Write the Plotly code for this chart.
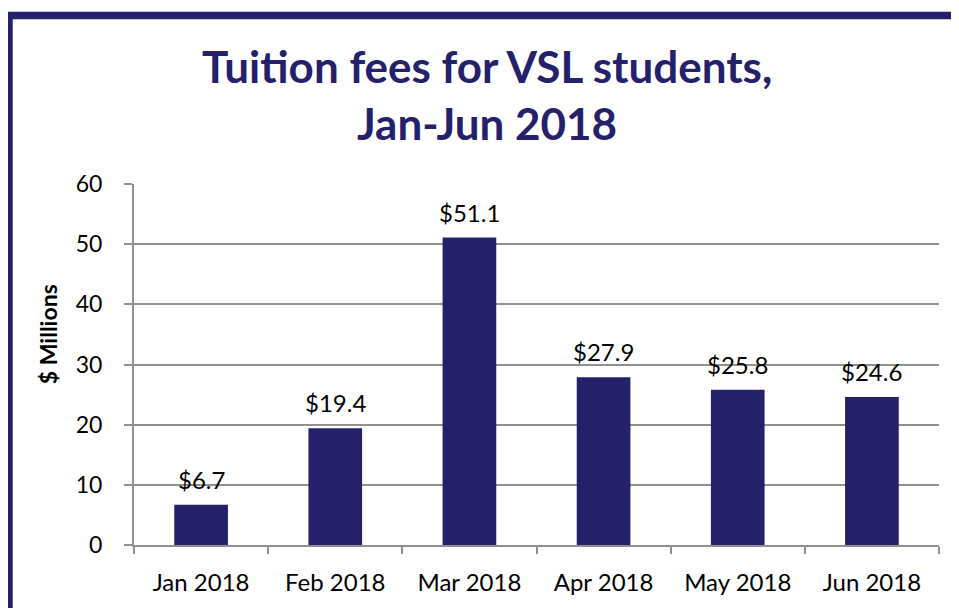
import plotly.graph_objects as go

months = ["Jan 2018", "Feb 2018", "Mar 2018", "Apr 2018", "May 2018", "Jun 2018"]
fees = [6.7, 19.4, 51.1, 27.9, 25.8, 24.6]
labels = ["$6.7", "$19.4", "$51.1", "$27.9", "$25.8", "$24.6"]
title_lines = ["Tuition fees for VSL students,", "Jan-Jun 2018"]
y_title = "$ Millions"

NAVY = "#25206a"
GRID = "#8f8f8f"
FONT = "Lato"

OFF = 8  # page body margin
W, H = 959 - OFF, 608 - OFF
# plot area in screen pixels
SX0, SX1, SY0, SY1 = 134, 939, 184, 547
L, T = SX0 - OFF, SY0 - OFF
R, B = W - (SX1 - OFF), H - (SY1 - OFF)
pw, ph = SX1 - SX0, SY1 - SY0

def px_x(px):
    return (px - SX0) / pw

def px_y(py):
    return (SY1 - py) / ph

fig = go.Figure(go.Bar(
    x=months, y=fees,
    marker=dict(color=NAVY, line=dict(width=0)),
    width=0.4,
))

for m, v, t in zip(months, fees, labels):
    fig.add_annotation(x=m, y=v, text=t, xref="x", yref="y",
                       yanchor="bottom", yshift=9, showarrow=False,
                       font=dict(family=FONT, size=24, color="black"))

fig.update_layout(
    width=W, height=H,
    margin=dict(l=L, r=R, t=T, b=B),
    paper_bgcolor="white", plot_bgcolor="white",
    showlegend=False,
    font=dict(family=FONT, color="black"),
    xaxis=dict(
        showline=True, linecolor=GRID, linewidth=2,
        ticks="outside", tickson="boundaries", ticklen=7, tickcolor=GRID, tickwidth=2,
        tickfont=dict(family=FONT, size=24, color="black"),
        ticklabelstandoff=15,
        showgrid=False,
    ),
    yaxis=dict(
        range=[0, 60], dtick=10,
        showline=True, linecolor=GRID, linewidth=2,
        ticks="outside", ticklen=8, tickcolor=GRID, tickwidth=2,
        tickfont=dict(family=FONT, size=23, color="black"),
        ticklabelstandoff=17,
        showgrid=True, gridcolor=GRID, gridwidth=2,
        zeroline=False,
    ),
    shapes=[
        dict(type="line", xref="paper", yref="paper",
             x0=px_x(9), x1=px_x(9), y0=px_y(14.5), y1=px_y(700),
             line=dict(color=NAVY, width=7.5)),
        dict(type="line", xref="paper", yref="paper",
             x0=px_x(5.25), x1=px_x(1100), y0=px_y(14.5), y1=px_y(14.5),
             line=dict(color=NAVY, width=7.5)),
    ],
)

fig.add_annotation(text="<b>%s</b>" % title_lines[0], xref="paper", yref="paper",
                   x=px_x(487), y=px_y(65), xanchor="center", yanchor="middle",
                   showarrow=False, font=dict(family=FONT, size=44, color=NAVY))
fig.add_annotation(text="<b>%s</b>" % title_lines[1], xref="paper", yref="paper",
                   x=px_x(487), y=px_y(123), xanchor="center", yanchor="middle",
                   showarrow=False, font=dict(family=FONT, size=44, color=NAVY))
fig.add_annotation(text="<b>%s</b>" % y_title, xref="paper", yref="paper",
                   x=px_x(48), y=px_y(335), xanchor="center", yanchor="middle",
                   textangle=-90, showarrow=False,
                   font=dict(family=FONT, size=23, color="black"))

fig.write_html("out.html")
